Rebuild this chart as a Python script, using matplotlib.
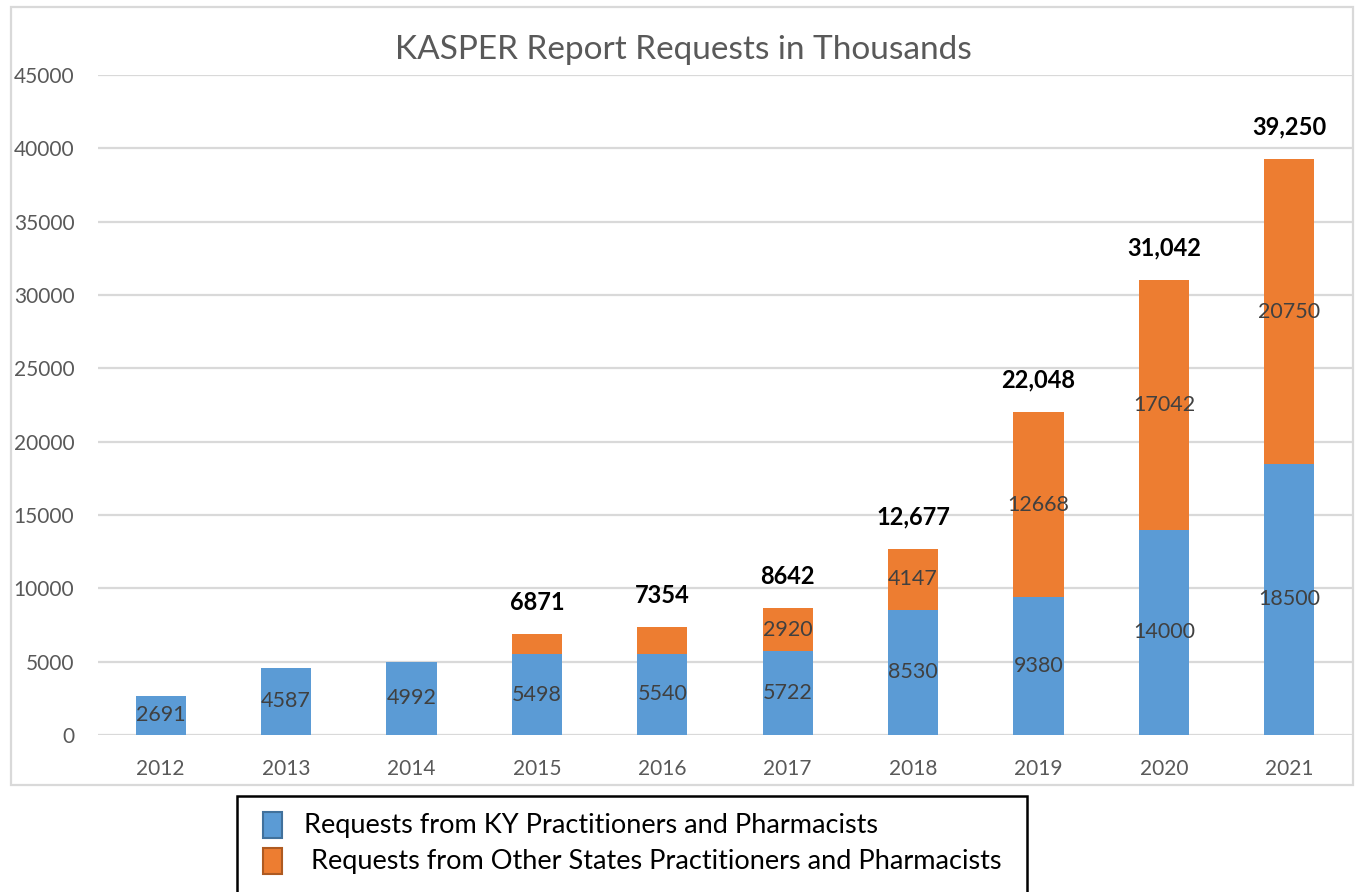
import matplotlib
matplotlib.use("Agg")
import matplotlib.pyplot as plt
from matplotlib.patches import Rectangle

years = ["2012", "2013", "2014", "2015", "2016", "2017", "2018", "2019", "2020", "2021"]
ky_requests = [2691, 4587, 4992, 5498, 5540, 5722, 8530, 9380, 14000, 18500]
other_requests = [0, 0, 0, 1373, 1814, 2920, 4147, 12668, 17042, 20750]
show_other_label = [False, False, False, False, False, True, True, True, True, True]
total_labels = ["", "", "", "6871", "7354", "8642", "12,677", "22,048", "31,042", "39,250"]
y_ticks = [0, 5000, 10000, 15000, 20000, 25000, 30000, 35000, 40000, 45000]

title = "KASPER Report Requests in Thousands"
legend_labels = ["Requests from KY Practitioners and Pharmacists",
                 " Requests from Other States Practitioners and Pharmacists"]

BLUE = "#5B9BD5"
ORANGE = "#ED7D31"
GRID = "#D9D9D9"
TXT = "#595959"
FONT = ["Lato", "DejaVu Sans"]

plt.rcParams["font.family"] = FONT

W, H = 1361, 892
fig = plt.figure(figsize=(W / 100, H / 100), dpi=100)
ax = fig.add_axes([98 / W, 1 - 735 / H, (1352 - 98) / W, (735 - 75) / H])

x = list(range(len(years)))
bw = 0.4
b1 = ax.bar(x, ky_requests, width=bw, color=BLUE, zorder=3)
b2 = ax.bar(x, other_requests, width=bw, bottom=ky_requests, color=ORANGE, zorder=3)

ax.set_xlim(-0.5, len(years) - 0.5)
ax.set_ylim(0, 45000)
ax.set_yticks(y_ticks)
ax.set_yticklabels([str(v) for v in y_ticks])
ax.set_xticks(x)
ax.set_xticklabels(years)
ax.tick_params(axis="both", length=0, labelsize=15, labelcolor=TXT)
ax.tick_params(axis="y", pad=17)
ax.tick_params(axis="x", pad=17)
for s in ax.spines.values():
    s.set_visible(False)
ax.yaxis.grid(True, color=GRID, linewidth=1.6, zorder=0)
ax.set_axisbelow(True)

for i in x:
    ax.text(i, ky_requests[i] / 2, str(ky_requests[i]), ha="center", va="center",
            fontsize=15.5, color="#404040", zorder=4)
    if show_other_label[i]:
        ax.text(i, ky_requests[i] + other_requests[i] / 2, str(other_requests[i]),
                ha="center", va="center", fontsize=15.5, color="#404040", zorder=4)
    if total_labels[i]:
        ax.annotate(total_labels[i], (i, ky_requests[i] + other_requests[i]),
                    xytext=(0, 23), textcoords="offset points", ha="center", va="center",
                    fontsize=17, fontweight="bold", color="black", zorder=4)

fig.text(683 / W, 1 - 50 / H, title, ha="center", va="center", fontsize=24, color=TXT)

# outer chart border
fig.patches.append(Rectangle((11 / W, 1 - 785 / H), (1353 - 11) / W, (785 - 7) / H,
                             transform=fig.transFigure, fill=False, edgecolor=GRID,
                             linewidth=1.6))

# legend box
fig.patches.append(Rectangle((237 / W, -0.05), (1027 - 237) / W, 0.05 + 1 - 796 / H,
                             transform=fig.transFigure, fill=False, edgecolor="black",
                             linewidth=1.8, clip_on=False))
legend_colors = [(BLUE, "#41719C"), (ORANGE, "#AE5A21")]
for k, (lab, (fc, ec)) in enumerate(zip(legend_labels, legend_colors)):
    yc = 825 + k * 36
    fig.patches.append(Rectangle((263 / W, 1 - (yc + 13) / H), 19 / W, 26 / H,
                                 transform=fig.transFigure, facecolor=fc, edgecolor=ec,
                                 linewidth=1.5))
    fig.text(304 / W, 1 - yc / H, lab, ha="left", va="center", fontsize=19.5, color="black")

fig.savefig("out.png", dpi=100)
